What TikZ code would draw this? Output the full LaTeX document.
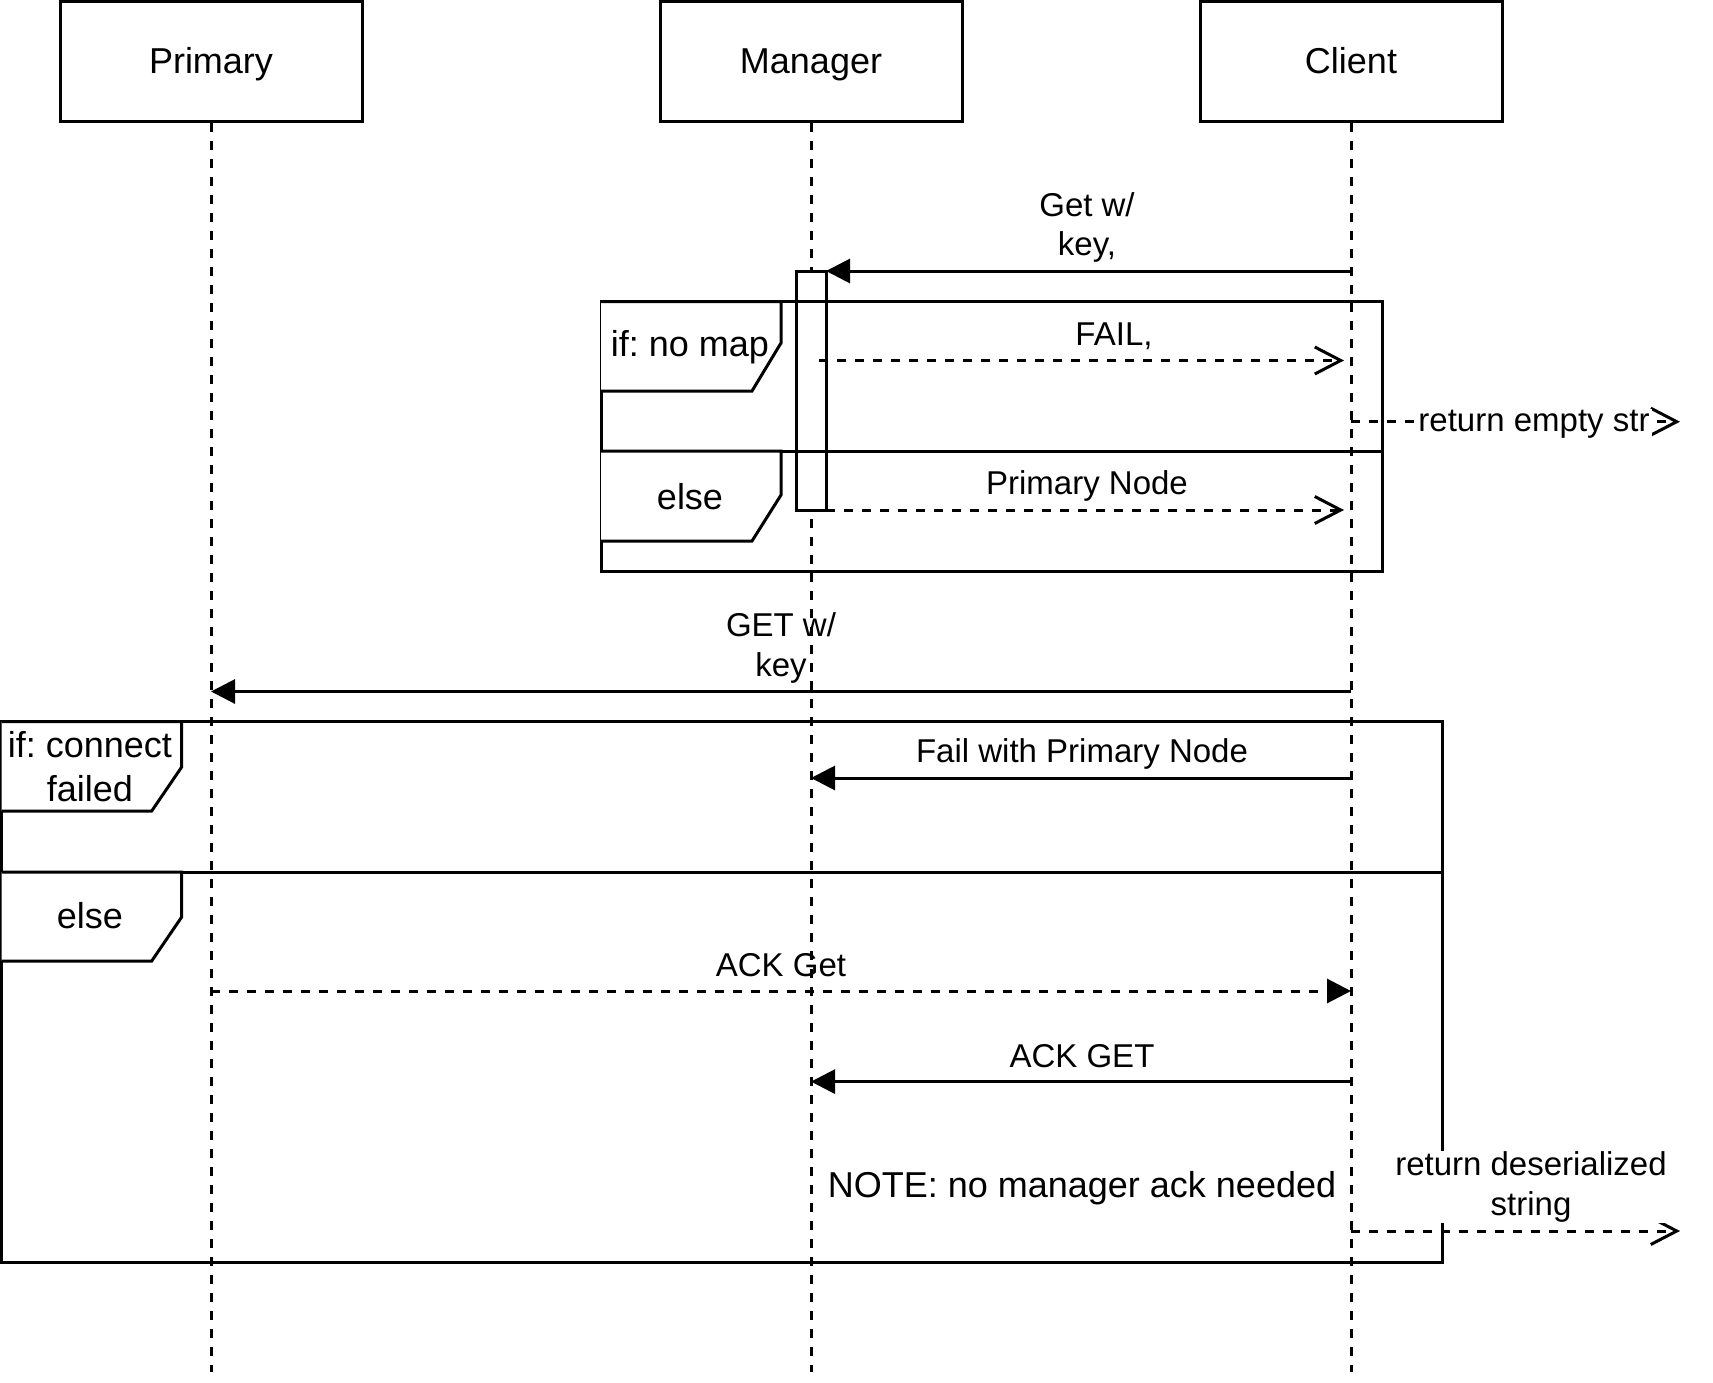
\documentclass[tikz,border=0pt]{standalone}
\usepackage{fontspec}
\setmainfont{Liberation Sans}
\usetikzlibrary{arrows.meta}
\frenchspacing
\begin{document}
\begin{tikzpicture}[x=1pt,y=-1pt,
  every node/.style={font=\fontsize{33}{39.6}\selectfont},
  actor/.style={draw, line width=3pt, minimum width=302pt, minimum height=120pt, inner sep=0pt, text height=28pt, text depth=4pt, font=\fontsize{36}{43}\selectfont},
  life/.style={line width=3pt, dash pattern=on 9pt off 9pt},
  frame/.style={draw, line width=3pt},
  msg/.style={line width=3pt, -{Triangle[length=24pt,width=24pt]}},
  dmsg/.style={msg, dash pattern=on 9pt off 9pt},
  ret/.style={line width=3pt, dash pattern=on 9pt off 9pt, -{Straight Barb[length=26pt,width=27pt]}},
  lbl/.style={inner sep=0pt, align=center},
  big/.style={inner sep=0pt, align=center, font=\fontsize{36}{44}\selectfont}
]
\useasboundingbox (0,0) rectangle (1713,1383);

% actors
\node[actor] (primary) at (211,61.5) {Primary};
\node[actor] (manager) at (811,61.5) {Manager};
\node[actor] (client)  at (1351,61.5) {Client};

% lifeline ends
\coordinate (pend) at (211,1372);
\coordinate (mend) at (811,1372);
\coordinate (cend) at (1351,1372);
\draw[life] (primary.south) -- (pend);
\draw[life] (manager.south) -- (mend);
\draw[life] (client.south) -- (cend);

% activation
\draw[frame, fill=white] (796,271) rectangle (826,510);

% frame 1
\draw[frame] (601,301.5) rectangle (1382,571);
\draw[frame] (601,451) -- (1382,451);
\draw[frame, fill=white] (601,301.5) -- (781,301.5) -- (781,343) -- (752,391) -- (601,391);
\draw[frame, fill=white] (601,451) -- (781,451) -- (781,495) -- (752,541) -- (601,541);
\node[big] (ifmap) at (690,347) {if: no map};
\node[big] (else1) at (690,497) {else};

% frame 2
\draw[frame] (1.5,721.5) rectangle (1442,1262);
\draw[frame] (1.5,872) -- (1442,872);
\draw[frame, fill=white] (1.5,721.5) -- (181.7,721.5) -- (181.7,767) -- (151.7,811) -- (1.5,811);
\draw[frame, fill=white] (1.5,872) -- (181.7,872) -- (181.7,917) -- (151.7,961) -- (1.5,961);
\node[big] (ifconn) at (90,767) {if: connect\\failed};
\node[big] (else2) at (90,915.5) {else};

% message points
\coordinate (c1) at (1351,271);   \coordinate (a1) at (826,271);
\coordinate (a2) at (819,360.5);  \coordinate (c2) at (1344,360.5);
\coordinate (c3) at (1351,421.7); \coordinate (r3) at (1680,421.7);
\coordinate (a4) at (826,510);    \coordinate (c4) at (1344,510);
\coordinate (c5) at (1351,691.5); \coordinate (p5) at (211,691.5);
\coordinate (c6) at (1351,778);   \coordinate (m6) at (811,778);
\coordinate (p7) at (211,991);    \coordinate (c7) at (1351,991);
\coordinate (c8) at (1351,1081.6);\coordinate (m8) at (811,1081.6);
\coordinate (c9) at (1351,1231);  \coordinate (r9) at (1680,1231);

\draw[msg] (c1) -- (a1);
\draw[ret] (a2) -- (c2);
\draw[ret] (c3) -- (r3);
\draw[ret] (a4) -- (c4);
\draw[msg] (c5) -- (p5);
\draw[msg] (c6) -- (m6);
\draw[dmsg] (p7) -- (c7);
\draw[msg] (c8) -- (m8);
\draw[ret] (c9) -- (r9);

% labels
\node[lbl] (l1) at (1087,227.5) {Get w/\\key,};
\node[lbl] (l2) at (1114,336.5) {FAIL,};
\node[lbl, fill=white, inner xsep=2pt, inner ysep=1pt] (l3) at (1534,424) {return empty str};
\node[lbl] (l4) at (1087,486) {Primary Node};
\node[lbl] (l5) at (781,648) {GET w/\\key};
\node[lbl] (l6) at (1082,753.5) {Fail with Primary Node};
\node[lbl] (l7) at (781,965.5) {ACK Get};
\node[lbl] (l8) at (1082,1056) {ACK GET};
\node[big] (note) at (1082,1188.5) {NOTE: no manager ack needed};
\node[lbl, fill=white, inner xsep=2pt, inner ysep=1pt] (l9) at (1531,1187) {return deserialized\\string};
\end{tikzpicture}
\end{document}
